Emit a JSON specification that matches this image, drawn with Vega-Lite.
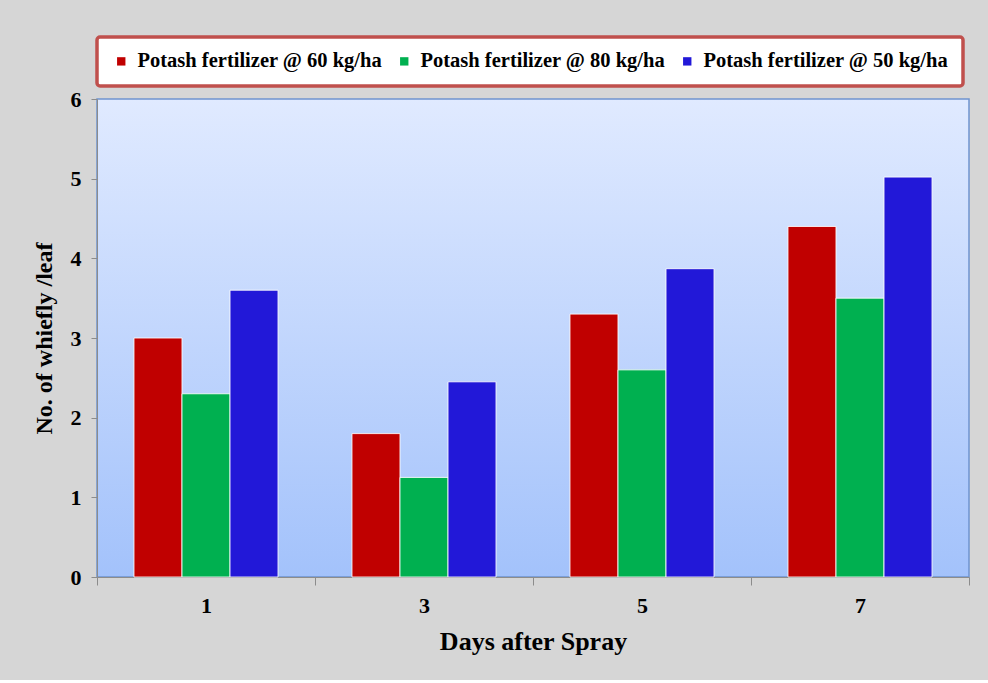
{
  "$schema": "https://vega.github.io/schema/vega-lite/v6.json",
  "width": 872,
  "height": 478,
  "padding": {"left": 32, "top": 35, "right": 19, "bottom": 26},
  "background": "#d6d6d6",
  "config": {"legend": {"strokeWidth": 3.5}},
  "view": {
    "fill": {"gradient": "linear", "x1": 0, "y1": 0, "x2": 0, "y2": 1, "stops": [{"offset": 0, "color": "#e0eaff"}, {"offset": 1, "color": "#a3c2fb"}]},
    "stroke": "#6f94d0",
    "strokeWidth": 1.5
  },
  "data": {
    "values": [
      {"day": "1", "treatment": "Potash fertilizer @ 60 kg/ha", "whitefly": 3.0},
      {"day": "1", "treatment": "Potash fertilizer @ 80 kg/ha", "whitefly": 2.3},
      {"day": "1", "treatment": "Potash fertilizer @ 50 kg/ha", "whitefly": 3.6},
      {"day": "3", "treatment": "Potash fertilizer @ 60 kg/ha", "whitefly": 1.8},
      {"day": "3", "treatment": "Potash fertilizer @ 80 kg/ha", "whitefly": 1.25},
      {"day": "3", "treatment": "Potash fertilizer @ 50 kg/ha", "whitefly": 2.45},
      {"day": "5", "treatment": "Potash fertilizer @ 60 kg/ha", "whitefly": 3.3},
      {"day": "5", "treatment": "Potash fertilizer @ 80 kg/ha", "whitefly": 2.6},
      {"day": "5", "treatment": "Potash fertilizer @ 50 kg/ha", "whitefly": 3.87},
      {"day": "7", "treatment": "Potash fertilizer @ 60 kg/ha", "whitefly": 4.4},
      {"day": "7", "treatment": "Potash fertilizer @ 80 kg/ha", "whitefly": 3.5},
      {"day": "7", "treatment": "Potash fertilizer @ 50 kg/ha", "whitefly": 5.02}
    ]
  },
  "mark": {"type": "bar", "stroke": "white", "strokeWidth": 1, "strokeOpacity": 0.85},
  "encoding": {
    "x": {
      "field": "day",
      "type": "nominal",
      "scale": {"paddingInner": 0, "paddingOuter": 0},
      "axis": {
        "title": "Days after Spray",
        "labelAngle": 0,
        "labelFont": "Liberation Serif",
        "labelFontWeight": "bold",
        "labelFontSize": 22,
        "labelColor": "black",
        "labelPadding": 10,
        "titleFont": "Liberation Serif",
        "titleFontWeight": "bold",
        "titleFontSize": 26,
        "titleColor": "black",
        "titlePadding": 12,
        "domainColor": "#8c8c8c",
        "tickColor": "#8c8c8c",
        "tickSize": 8,
        "tickBand": "extent",
        "grid": false
      }
    },
    "xOffset": {
      "field": "treatment",
      "type": "nominal",
      "sort": ["Potash fertilizer @ 60 kg/ha", "Potash fertilizer @ 80 kg/ha", "Potash fertilizer @ 50 kg/ha"],
      "scale": {"paddingInner": 0, "paddingOuter": 0.77}
    },
    "y": {
      "field": "whitefly",
      "type": "quantitative",
      "scale": {"domain": [0, 6], "nice": false},
      "axis": {
        "title": "No. of whiefly /leaf",
        "values": [0, 1, 2, 3, 4, 5, 6],
        "format": "d",
        "grid": false,
        "labelFont": "Liberation Serif",
        "labelFontWeight": "bold",
        "labelFontSize": 22,
        "labelColor": "black",
        "labelPadding": 10,
        "titleFont": "Liberation Serif",
        "titleFontWeight": "bold",
        "titleFontSize": 24,
        "titleColor": "black",
        "titlePadding": 14,
        "domainColor": "#8c8c8c",
        "tickColor": "#8c8c8c",
        "tickSize": 6
      }
    },
    "color": {
      "field": "treatment",
      "type": "nominal",
      "scale": {
        "domain": ["Potash fertilizer @ 60 kg/ha", "Potash fertilizer @ 80 kg/ha", "Potash fertilizer @ 50 kg/ha"],
        "range": ["#c00000", "#00b050", "#2218d8"]
      },
      "legend": {
        "title": null,
        "orient": "top",
        "direction": "horizontal",
        "offset": 13,
        "padding": 14,
        "cornerRadius": 3,
        "fillColor": "white",
        "strokeColor": "#c0504d",
        "symbolType": "square",
        "symbolSize": 70,
        "symbolStrokeWidth": 0,
        "labelFont": "Liberation Serif",
        "labelFontWeight": "bold",
        "labelFontSize": 20.5,
        "labelColor": "black",
        "labelOffset": 6,
        "labelLimit": 400,
        "gridAlign": "all",
        "columnPadding": 11
      }
    }
  }
}
